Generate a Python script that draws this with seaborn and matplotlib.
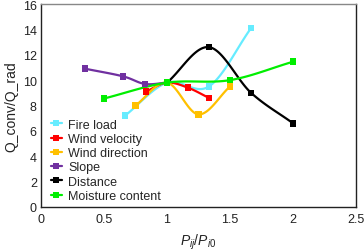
import numpy as np
import pandas as pd
import matplotlib
matplotlib.use('Agg')
import matplotlib.pyplot as plt
from matplotlib.lines import Line2D
import seaborn as sns

# Values
series_names = ['Fire load', 'Wind velocity', 'Wind direction', 'Slope', 'Distance', 'Moisture content']
series_colors = ['#66ecff', '#ff0000', '#ffc000', '#7030a0', '#000000', '#00ee00']

fire_load_x = [0.667, 1.0, 1.333, 1.667]
fire_load_y = [7.2, 9.8, 9.5, 14.1]
wind_velocity_x = [0.833, 1.0, 1.167, 1.333]
wind_velocity_y = [9.1, 9.8, 9.4, 8.6]
wind_direction_x = [0.75, 1.0, 1.25, 1.5]
wind_direction_y = [8.0, 9.8, 7.3, 9.5]
slope_x = [0.35, 0.65, 0.825, 1.0]
slope_y = [10.9, 10.3, 9.7, 9.8]
distance_x = [1.0, 1.333, 1.667, 2.0]
distance_y = [9.8, 12.6, 9.0, 6.6]
moisture_x = [0.5, 1.0, 1.5, 2.0]
moisture_y = [8.55, 9.8, 10.0, 11.45]

series_x = [fire_load_x, wind_velocity_x, wind_direction_x, slope_x, distance_x, moisture_x]
series_y = [fire_load_y, wind_velocity_y, wind_direction_y, slope_y, distance_y, moisture_y]


def smooth_curve(xs, ys, steps=30):
    # Catmull-Rom path through the points, like a spreadsheet "smoothed line"
    p = np.column_stack([xs, ys]).astype(float)
    p = np.vstack([p[0] - (p[1] - p[0]), p, p[-1] + (p[-1] - p[-2])])
    out = []
    t = np.linspace(0, 1, steps)[:, None]
    for i in range(1, len(p) - 2):
        p0, p1, p2, p3 = p[i - 1], p[i], p[i + 1], p[i + 2]
        seg = 0.5 * ((2 * p1) + (-p0 + p2) * t + (2 * p0 - 5 * p1 + 4 * p2 - p3) * t ** 2
                     + (-p0 + 3 * p1 - 3 * p2 + p3) * t ** 3)
        out.append(seg if i == 1 else seg[1:])
    out = np.vstack(out)
    return out[:, 0], out[:, 1]


sns.set_theme(style='white')
plt.rcParams['font.family'] = ['Liberation Sans', 'DejaVu Sans']
plt.rcParams['mathtext.fontset'] = 'custom'
plt.rcParams['mathtext.it'] = 'Liberation Sans:italic'
plt.rcParams['mathtext.rm'] = 'Liberation Sans'

fig = plt.figure(figsize=(3.64, 2.51), dpi=100)
ax = fig.add_axes([41 / 364, 1 - 208 / 251, 315 / 364, 203 / 251])

handles = []
for name, color, xs, ys in zip(series_names, series_colors, series_x, series_y):
    cx, cy = smooth_curve(xs, ys)
    curve = pd.DataFrame({'x': cx, 'y': cy})
    sns.lineplot(data=curve, x='x', y='y', color=color, lw=1.6, sort=False,
                 estimator=None, ax=ax)
    pts = pd.DataFrame({'x': xs, 'y': ys})
    sns.scatterplot(data=pts, x='x', y='y', color=color, marker='s', s=22,
                    edgecolor='none', ax=ax, zorder=5)
    handles.append(Line2D([], [], color=color, lw=1.6, marker='s', markersize=4.5,
                          markeredgewidth=0, label=name))

ax.set_xlim(0, 2.5)
ax.set_ylim(0, 16)
ax.set_xticks([0, 0.5, 1, 1.5, 2, 2.5])
ax.set_xticklabels(['0', '0.5', '1', '1.5', '2', '2.5'])
ax.set_yticks(range(0, 17, 2))
ax.tick_params(direction='in', length=3, width=0.6, color='#888888', labelsize=9,
               pad=3, labelcolor='#222222')
ax.tick_params(axis='x', pad=4)
for side, sp in ax.spines.items():
    sp.set_linewidth(1.0)
    sp.set_color('#222222')
ax.spines['top'].set_color('#888888')

ax.set_xlabel('$P_{ij}/P_{i0}$', fontsize=10, labelpad=5, color='#222222')
ax.set_ylabel('Q_conv/Q_rad', fontsize=10, labelpad=3, color='#222222')

ax.legend(handles=handles, loc='lower left', frameon=False, fontsize=9,
          handlelength=0.9, handletextpad=0.5, labelspacing=0.18,
          borderaxespad=0.0, bbox_to_anchor=(0.015, 0.0))

fig.savefig('out.png', dpi=100)
